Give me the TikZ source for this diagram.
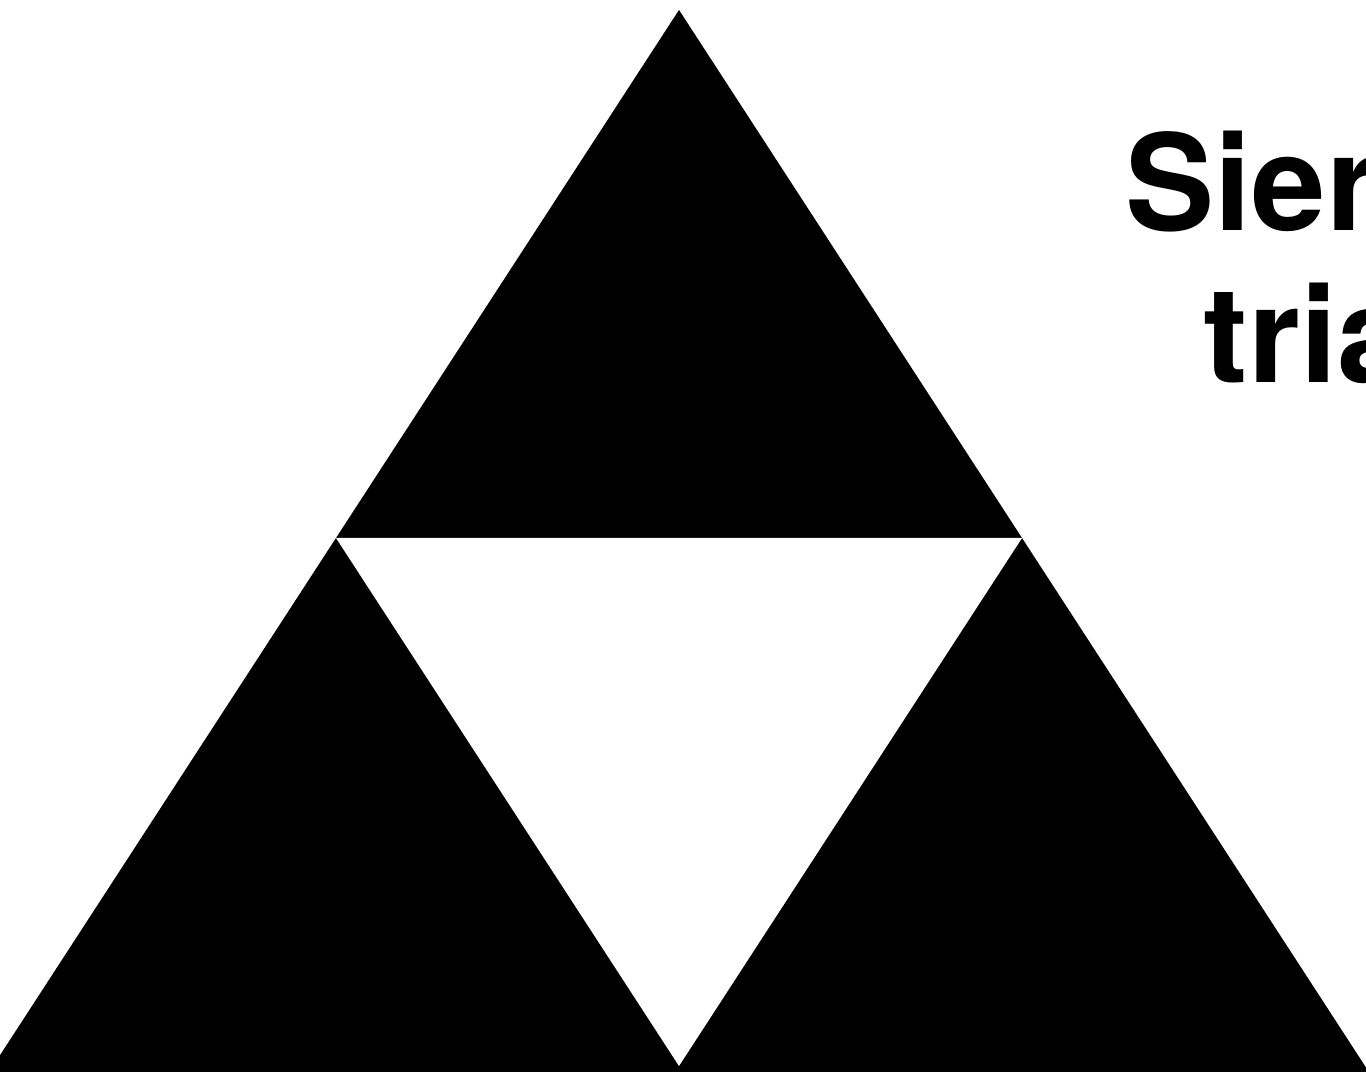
\documentclass[tikz,border=0pt]{standalone}
\usepackage{fontspec}
\setsansfont{TeX Gyre Heros}
\usetikzlibrary{calc}
\definecolor{sierfill}{HTML}{000000}
\definecolor{holefill}{HTML}{FFFFFF}

\begin{document}
\begin{tikzpicture}[
  solid tri/.style={fill=sierfill},
  hole tri/.style={fill=holefill},
  title/.style={align=center, inner sep=0pt, anchor=base west,
                font=\sffamily\bfseries\fontsize{38pt}{43.5pt}\selectfont},
]
\clip (0,0) rectangle (13.66,10.72);
% outer triangle corners
\coordinate (apex)  at ( 6.79, 10.62);
\coordinate (left)  at (-0.07,  0.06);
\coordinate (right) at (13.65,  0.06);
% midpoints of the sides
\coordinate (midl) at ($(apex)!0.5!(left)$);
\coordinate (midr) at ($(apex)!0.5!(right)$);
\coordinate (midb) at ($(left)!0.5!(right)$);
% base runs a little past the lower edge
\fill[solid tri] (apex) -- ($(apex)!1.02!(left)$) -- ($(apex)!1.02!(right)$) -- cycle;
\fill[hole tri] (midl) -- (midr) -- (midb) -- cycle;
\node[title] (name) at (11.25, 6.89) {Sierpinski\\triangle};
\end{tikzpicture}
\end{document}
